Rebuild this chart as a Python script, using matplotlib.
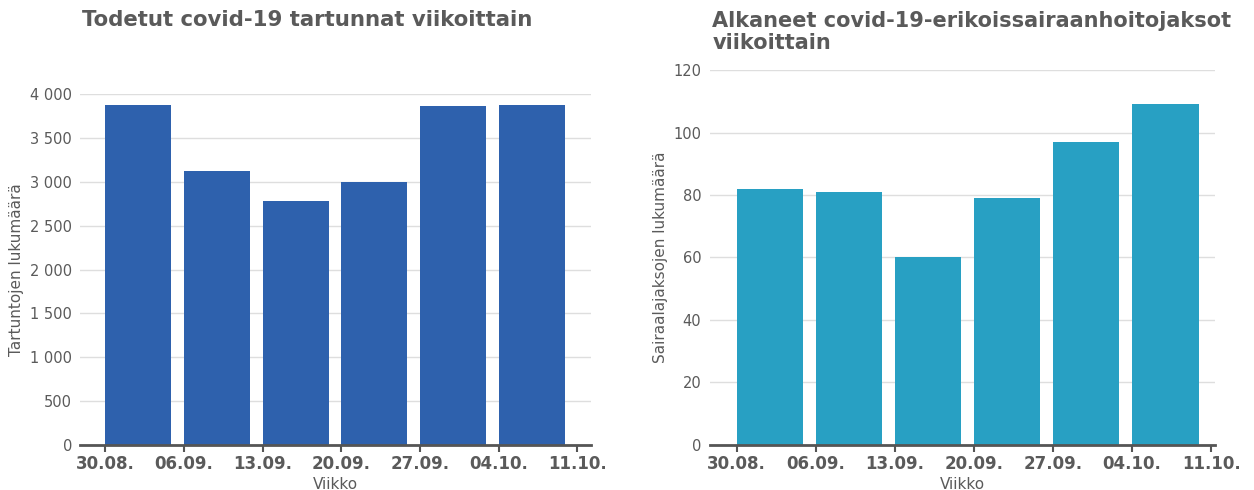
import numpy as np
import matplotlib.pyplot as plt

# weekly data, bars start on the week's first day
weeks = ["30.08.", "06.09.", "13.09.", "20.09.", "27.09.", "04.10.", "11.10."]
cases = [3875, 3125, 2785, 3000, 3862, 3880]
hospital = [82, 81, 60, 79, 97, 109]

text_col = "#5a5a5a"
axis_col = "#555555"
grid_col = "#dedede"

fig = plt.figure(figsize=(12.54, 4.9), dpi=100)
fig.patch.set_facecolor("white")

ax1 = fig.add_axes([0.064, 0.092, 0.407, 0.716])
ax2 = fig.add_axes([0.566, 0.092, 0.403, 0.765])


def style_axis(ax, values, color, yticks, ylabel, xlim):
    x = np.arange(len(values))
    ax.bar(x, values, width=0.84, align="edge", color=color, zorder=3)
    ax.set_xlim(*xlim)
    ax.set_xticks(np.arange(len(weeks)))
    ax.set_xticklabels(weeks, fontsize=12, fontweight="bold", color=text_col)
    ax.set_yticks(yticks)
    ax.set_ylim(0, yticks[-1])
    ax.set_yticklabels([f"{v:,}".replace(",", " ") for v in yticks],
                       fontsize=10.5, color=text_col)
    ax.grid(axis="y", color=grid_col, linewidth=1, zorder=0)
    for side in ["top", "right", "left"]:
        ax.spines[side].set_visible(False)
    ax.spines["bottom"].set_color(axis_col)
    ax.spines["bottom"].set_linewidth(2)
    ax.spines["bottom"].set_zorder(4)
    ax.tick_params(axis="y", length=0, pad=6)
    ax.tick_params(axis="x", length=5, width=1.5, color=axis_col, pad=2)
    ax.set_xlabel("Viikko", fontsize=11, color=text_col, labelpad=3)
    ax.set_ylabel(ylabel, fontsize=11, color=text_col, labelpad=4)


style_axis(ax1, cases, "#2e61ad", [0, 500, 1000, 1500, 2000, 2500, 3000, 3500, 4000],
           "Tartuntojen lukumäärä", (-0.32, 6.17))
style_axis(ax2, hospital, "#28a0c3", [0, 20, 40, 60, 80, 100, 120],
           "Sairaalajaksojen lukumäärä", (-0.34, 6.05))

fig.text(0.065, 0.96, "Todetut covid-19 tartunnat viikoittain",
         fontsize=15.3, fontweight="bold", color=text_col, va="center")
fig.text(0.568, 0.935, "Alkaneet covid-19-erikoissairaanhoitojaksot\nviikoittain",
         fontsize=15, fontweight="bold", color=text_col, va="center",
         linespacing=1.15)

plt.savefig("out.png", dpi=100)
